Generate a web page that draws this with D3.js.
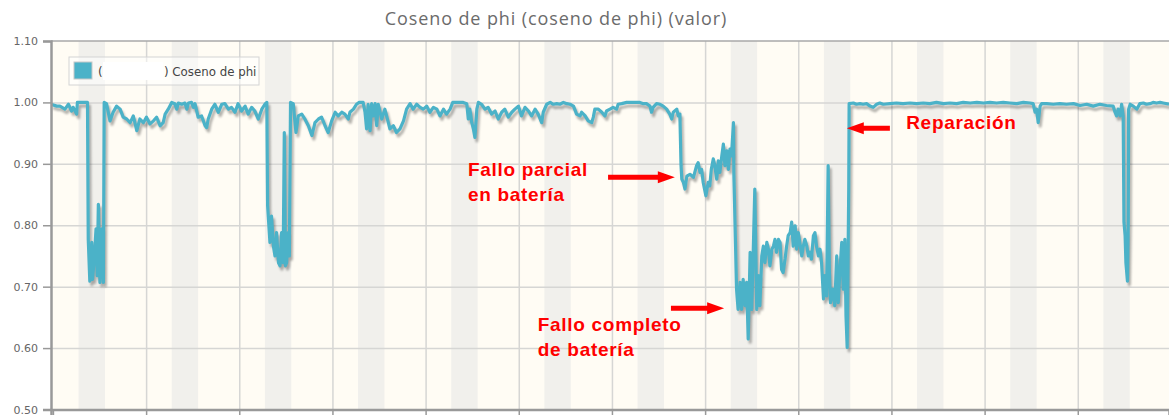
<!DOCTYPE html>
<meta charset="utf-8">
<style>
  body { margin: 0; background: #fff; }
  svg { display: block; }
</style>
<script src="https://cdn.jsdelivr.net/npm/d3@7"></script>
<body>
<div id="grafico"></div>
</body>
<script>
// datos: horas desde el inicio, valor del coseno de phi
var serie = [
  [-0.5,0.997],[1.0,0.994],[1.8,0.994],[3.1,0.989],[4.0,0.997],[4.8,0.986],[5.2,0.992],[6.1,0.981],[6.3,1.0],[8.9,1.0],
  [9.1,0.777],[9.5,0.709],[10.0,0.772],[10.2,0.712],[10.7,0.750],[11.1,0.794],[11.4,0.718],[11.7,0.834],[12.1,0.707],[12.6,0.794],[13.0,0.707],
  [13.2,1.0],[13.8,0.998],[14.7,0.970],[15.5,0.984],[16.4,0.994],[17.3,0.989],[18.1,0.976],[19.0,0.973],[19.9,0.967],[20.7,0.978],
  [21.6,0.954],[22.4,0.973],[23.3,0.967],[24.1,0.976],[25.0,0.965],[25.9,0.970],[26.7,0.976],[27.6,0.962],[28.4,0.967],[28.9,0.981],
  [29.7,0.989],[30.6,1.0],[31.4,0.998],[31.9,0.989],[32.3,0.999],[33.2,0.997],[34.0,0.999],[34.5,0.989],[34.9,0.999],[35.7,1.0],
  [36.2,0.992],[36.6,0.998],[37.4,0.976],[38.3,0.978],[39.2,0.962],[39.6,0.959],[40.0,0.973],[40.9,0.989],[41.7,0.997],[42.6,0.984],
  [43.5,0.997],[44.3,0.998],[45.2,0.989],[46.0,0.992],[46.9,0.984],[47.7,0.998],[48.6,0.986],[49.5,0.994],[50.3,0.981],[51.2,0.992],
  [52.0,0.986],[52.9,0.973],[53.8,0.989],[54.6,0.997],[55.1,1.0],
  [55.3,0.832],[55.9,0.772],[56.3,0.815],[56.8,0.766],[57.2,0.750],[57.6,0.788],[58.1,0.739],[58.5,0.734],[58.9,0.788],[59.3,0.739],
  [59.6,0.951],[59.9,0.734],[60.2,0.739],[60.6,0.788],[60.9,0.750],
  [61.2,1.0],[61.9,0.998],[62.6,0.951],[63.2,0.978],[64.1,0.981],[64.9,0.973],[65.8,0.962],[66.7,0.946],[67.5,0.967],[68.4,0.973],
  [69.2,0.976],[70.1,0.962],[70.9,0.951],[71.8,0.970],[72.7,0.984],[73.5,0.978],[74.4,0.984],[75.2,0.981],[76.1,0.973],[76.5,0.984],
  [77.4,0.989],[78.2,0.997],[78.9,1.0],[79.9,1.0],[80.4,0.984],[80.8,0.957],[81.2,0.997],[81.7,0.954],[82.1,0.998],[82.5,0.978],
  [83.0,0.998],[83.4,0.962],[83.8,0.997],[84.7,0.973],[85.5,0.989],[86.4,0.967],[86.8,0.957],[87.7,0.962],[88.5,0.951],[89.4,0.957],
  [90.3,0.970],[91.1,0.989],[92.0,0.998],[92.8,0.989],[93.7,0.997],[94.6,0.992],[95.4,0.989],[96.3,0.994],[97.1,0.984],[98.0,0.992],
  [98.9,0.989],[99.7,0.978],[100.6,0.989],[101.4,0.981],[102.3,0.989],[103.0,1.0],[105.7,1.0],[106.6,0.998],[107.0,0.973],[107.4,0.989],
  [107.9,0.967],[108.3,0.957],[108.7,0.943],[109.2,0.989],[109.6,1.0],[110.4,0.997],[111.3,0.989],[112.1,0.992],[113.0,0.981],[113.9,0.986],
  [114.7,0.973],[115.6,0.984],[116.4,0.989],[117.3,0.976],[118.2,0.984],[119.0,0.989],[119.9,0.994],[120.7,0.978],[121.6,0.992],[122.5,0.986],
  [123.3,0.978],[124.2,0.989],[125.0,0.981],[125.9,0.967],[126.3,0.984],[127.2,0.997],[128.1,1.0],[128.9,0.997],[129.8,0.998],[130.6,0.997],
  [131.5,1.0],[132.4,0.998],[133.2,0.997],[134.1,0.994],[134.9,0.981],[135.8,0.978],[136.2,0.984],[137.1,0.978],[137.9,0.970],[138.8,0.967],
  [139.2,0.976],[139.6,0.989],[140.5,0.989],[141.4,0.984],[142.2,0.978],[142.6,0.986],[143.5,0.989],[144.3,0.992],[145.2,0.989],[145.6,0.997],
  [146.5,0.998],[147.8,1.0],[149.5,1.0],[151.2,1.0],[152.1,0.998],[152.9,0.998],[153.8,0.994],[154.2,0.984],[154.6,0.992],[155.5,0.998],
  [156.4,0.997],[157.2,0.994],[158.1,0.989],[158.9,0.981],[159.4,0.973],[159.8,0.984],[160.7,0.989],[161.1,0.978],[161.5,0.981],
  // fallo parcial
  [161.8,0.897],[162.0,0.875],[162.4,0.870],[162.8,0.859],[163.3,0.880],[164.1,0.883],[165.0,0.878],[165.8,0.897],[166.2,0.902],[166.7,0.886],
  [167.1,0.891],[167.5,0.870],[168.2,0.848],[168.8,0.870],[169.2,0.864],[169.6,0.891],[170.1,0.908],[170.5,0.897],[171.0,0.875],[171.4,0.905],
  [171.8,0.886],[172.3,0.913],[172.7,0.932],[173.1,0.897],[173.6,0.921],[174.0,0.891],[174.4,0.924],[174.8,0.913],[175.3,0.967],[175.4,0.886],
  // fallo completo
  [175.7,0.805],[176.1,0.696],[176.5,0.663],[177.0,0.707],[177.4,0.663],[177.8,0.712],[178.3,0.669],[178.7,0.707],[179.1,0.615],[179.6,0.756],
  [180.0,0.663],[180.4,0.756],[180.8,0.859],[181.3,0.663],[181.7,0.718],[182.1,0.669],[182.6,0.750],[183.0,0.766],[183.4,0.739],[183.9,0.772],
  [184.3,0.761],[184.7,0.734],[185.2,0.761],[185.6,0.766],[186.0,0.777],[186.4,0.756],[186.9,0.777],[187.3,0.772],[187.7,0.728],[188.1,0.723],
  [188.6,0.745],[189.0,0.766],[189.4,0.783],[189.9,0.788],[190.3,0.805],[190.7,0.766],[191.2,0.799],[191.6,0.761],[192.0,0.788],[192.4,0.772],
  [192.9,0.750],[193.3,0.766],[193.7,0.777],[194.2,0.766],[194.6,0.750],[195.0,0.756],[195.4,0.745],[195.9,0.783],[196.3,0.788],[196.7,0.766],
  [197.2,0.750],[197.6,0.761],[198.0,0.739],[198.5,0.680],[198.9,0.718],[199.3,0.685],[199.7,0.897],[200.0,0.728],[200.3,0.674],[200.9,0.696],
  [201.4,0.669],[201.9,0.750],[202.3,0.674],[202.7,0.723],[203.2,0.772],[203.6,0.696],[204.0,0.777],[204.3,0.652],[204.6,0.601],[205.0,0.859],
  // reparación
  [205.1,0.998],[206.2,0.999],[207.0,0.997],[207.9,0.998],[208.7,0.997],[209.6,0.998],[210.5,0.994],[211.3,0.992],[212.2,0.997],[213.0,0.999],
  [213.9,0.997],[215.6,0.998],[217.3,0.999],[219.0,0.998],[220.8,0.999],[222.5,0.998],[224.2,0.999],[225.9,0.998],[227.6,1.0],[229.4,0.998],
  [231.1,0.999],[232.8,0.998],[234.5,1.0],[236.3,0.999],[238.0,1.0],[239.7,0.999],[241.4,1.0],[243.1,0.999],[244.8,1.0],[246.5,0.999],
  [248.3,0.998],[250.0,1.0],[251.7,0.999],[252.5,0.998],[253.0,0.984],[253.4,0.989],[253.8,0.967],[254.3,0.994],[254.7,0.998],[256.0,0.998],
  [257.7,0.997],[259.4,0.998],[261.1,0.997],[262.9,0.998],[264.6,0.995],[266.3,0.997],[268.0,0.994],[269.7,0.997],[271.4,0.995],[273.1,0.994],
  [273.6,0.984],[274.0,0.978],[274.4,0.989],[274.9,0.978],[275.3,0.997],[275.7,0.978],[275.9,0.805],[276.2,0.783],[276.4,0.739],[276.8,0.709],
  [277.0,0.805],[277.1,0.989],[277.5,0.997],[278.3,0.994],[279.2,0.989],[280.0,0.998],[280.9,0.999],[281.7,0.997],[282.6,0.998],[283.4,1.0],
  [284.3,0.999],[285.2,1.0],[286.0,0.999],[287.5,0.997]
];

// marcas del eje Y y dias (horas) del eje X
var yTicks = [0.5, 0.6, 0.7, 0.8, 0.9, 1.0, 1.1];
var dias = [24, 48, 72, 96, 120, 144, 168, 192, 216, 240, 264];
var xTicks = [0].concat(dias);

// franjas sombreadas (horas)
var franjas = [
  [6.6,13.4],[30.6,37.4],[54.6,61.4],[78.6,85.4],[102.6,109.4],[126.6,133.4],
  [150.6,157.4],[174.6,181.4],[198.6,205.4],[222.6,229.4],[246.6,253.4],[270.6,277.4]
];

var titulo = "Coseno de phi (coseno de phi) (valor)";
var leyenda = "Coseno de phi";

// notas en rojo: texto y punto de anclaje en datos
var notas = [
  {lineas: ["Fallo parcial", "en batería"], h: 106.9, v: 0.880},
  {lineas: ["Fallo completo", "de batería"], h: 124.9, v: 0.628},
  {lineas: ["Reparación"], h: 219.8, v: 0.956}
];
// flechas: desde [h, v] hasta [h, v]
var flechas = [
  [[143.0, 0.878], [160.2, 0.878]],
  [[159.2, 0.665], [172.9, 0.665]],
  [[215.6, 0.958], [204.5, 0.958]]
];

var margin = {top: 41, right: 0, bottom: 5.5, left: 51},
    W = 1169, H = 415,
    width = W - margin.left - margin.right,
    height = H - margin.top - margin.bottom;

var svg = d3.select("#grafico")
  .append("svg")
    .attr("width", W)
    .attr("height", H);

var defs = svg.append("defs");
defs.append("clipPath").attr("id", "clip")
  .append("rect").attr("width", width).attr("height", height);
defs.append("filter").attr("id", "sombra")
  .append("feGaussianBlur").attr("stdDeviation", 1.3);

var g = svg.append("g")
  .attr("transform", "translate(" + margin.left + "," + margin.top + ")");

var x = d3.scaleLinear().domain([-0.5, 287.5]).range([0, width]);
var y = d3.scaleLinear().domain([0.5, 1.1]).range([height, 0]);

// fondo
g.append("rect")
  .attr("width", width).attr("height", height)
  .attr("fill", "#fffcf4");

g.append("g").attr("clip-path", "url(#clip)")
  .selectAll("rect")
  .data(franjas)
  .enter().append("rect")
    .attr("x", function(d) { return x(d[0]); })
    .attr("width", function(d) { return x(d[1]) - x(d[0]); })
    .attr("y", 0).attr("height", height)
    .attr("fill", "#f1f0ec");

// rejilla
g.append("g")
  .attr("class", "rejilla")
  .call(d3.axisLeft(y).tickValues(yTicks.slice(1, -1)).tickSize(-width).tickFormat(""))
  .call(function(s) { s.select(".domain").remove(); })
  .selectAll("line").attr("stroke", "#d6d6d4").attr("stroke-width", 1.5);

g.append("g")
  .attr("class", "rejilla")
  .attr("transform", "translate(0," + height + ")")
  .call(d3.axisBottom(x).tickValues(dias).tickSize(height).tickFormat(""))
  .call(function(s) { s.select(".domain").remove(); })
  .selectAll("line")
    .attr("transform", "translate(0," + (-height) + ")")
    .attr("stroke", "#d6d6d4").attr("stroke-width", 1.5);

// linea
var linea = d3.line()
  .x(function(d) { return x(d[0]); })
  .y(function(d) { return y(d[1]); });

var trazo = g.append("g").attr("clip-path", "url(#clip)");
trazo.append("path")
  .datum(serie)
  .attr("d", linea)
  .attr("transform", "translate(2,3.5)")
  .attr("fill", "none")
  .attr("stroke", "rgba(0,0,0,0.3)")
  .attr("stroke-width", 3)
  .attr("stroke-linejoin", "round")
  .attr("filter", "url(#sombra)");
trazo.append("path")
  .datum(serie)
  .attr("d", linea)
  .attr("fill", "none")
  .attr("stroke", "#4bb2c8")
  .attr("stroke-width", 3.2)
  .attr("stroke-linejoin", "round");

// borde superior
g.append("line")
  .attr("x1", 0).attr("x2", width)
  .attr("y1", 0).attr("y2", 0)
  .attr("stroke", "#a8a8a8").attr("stroke-width", 1.5);

// ejes
var ejeY = g.append("g")
  .call(d3.axisLeft(y).tickValues(yTicks).tickSize(8).tickPadding(5).tickFormat(d3.format(".2f")));
ejeY.select(".domain").attr("stroke", "#999").attr("stroke-width", 2.5);
ejeY.selectAll(".tick line").attr("stroke", "#999").attr("stroke-width", 1.5);
ejeY.selectAll("text")
  .attr("fill", "#666")
  .style("font-family", "'DejaVu Sans', sans-serif")
  .style("font-size", "11px");

var ejeX = g.append("g")
  .attr("transform", "translate(0," + height + ")")
  .call(d3.axisBottom(x).tickValues(xTicks).tickSize(7).tickFormat(""));
ejeX.select(".domain").attr("stroke", "#999").attr("stroke-width", 2.5);
ejeX.selectAll(".tick line").attr("stroke", "#999").attr("stroke-width", 1.5);

// titulo
svg.append("text")
  .attr("x", 556).attr("y", 25)
  .attr("text-anchor", "middle")
  .attr("fill", "#6b6b6b")
  .style("font-family", "'Open Sans', sans-serif")
  .style("font-size", "18px")
  .style("letter-spacing", "0.9px")
  .text(titulo);

// leyenda
var ley = svg.append("g").attr("transform", "translate(69,57)");
ley.append("rect")
  .attr("width", 190).attr("height", 28)
  .attr("fill", "rgba(255,255,255,0.5)")
  .attr("stroke", "#d4d4d4");
ley.append("rect")
  .attr("x", 5).attr("y", 5).attr("width", 18).attr("height", 17)
  .attr("fill", "#4bb2c8")
  .attr("stroke", "#c8c8c8");
ley.append("rect")
  .attr("x", 34).attr("y", 5).attr("width", 60).attr("height", 18)
  .attr("fill", "#fff");
ley.append("text")
  .attr("x", 29).attr("y", 19)
  .attr("fill", "#444")
  .style("font-family", "'DejaVu Sans', sans-serif")
  .style("font-size", "11.8px")
  .text("(");
ley.append("text")
  .attr("x", 95).attr("y", 19)
  .attr("fill", "#444")
  .style("font-family", "'DejaVu Sans', sans-serif")
  .style("font-size", "11.8px")
  .text(") " + leyenda);

// notas
var rojo = "#ff0000";
notas.forEach(function(n) {
  var t = svg.append("text")
    .attr("x", margin.left + x(n.h))
    .attr("y", margin.top + y(n.v))
    .attr("fill", rojo)
    .style("font-family", "'Liberation Sans', Arial, sans-serif")
    .style("font-weight", "bold")
    .style("font-size", "19px")
    .style("letter-spacing", "0.7px");
  n.lineas.forEach(function(l, i) {
    t.append("tspan")
      .attr("x", margin.left + x(n.h))
      .attr("dy", i === 0 ? 0 : 25)
      .text(l);
  });
});

flechas.forEach(function(f) {
  var x0 = margin.left + x(f[0][0]), y0 = margin.top + y(f[0][1]),
      x1 = margin.left + x(f[1][0]), y1 = margin.top + y(f[1][1]);
  var dir = x1 > x0 ? 1 : -1, cabeza = 17, alto = 6, grosor = 2.5;
  var xb = x1 - dir * cabeza;
  var pts = [
    [x0, y0 - grosor], [xb, y0 - grosor], [xb, y0 - alto],
    [x1, y1], [xb, y0 + alto], [xb, y0 + grosor], [x0, y0 + grosor]
  ];
  svg.append("polygon")
    .attr("points", pts.map(function(p) { return p.join(","); }).join(" "))
    .attr("fill", rojo);
});
</script>
</html>
